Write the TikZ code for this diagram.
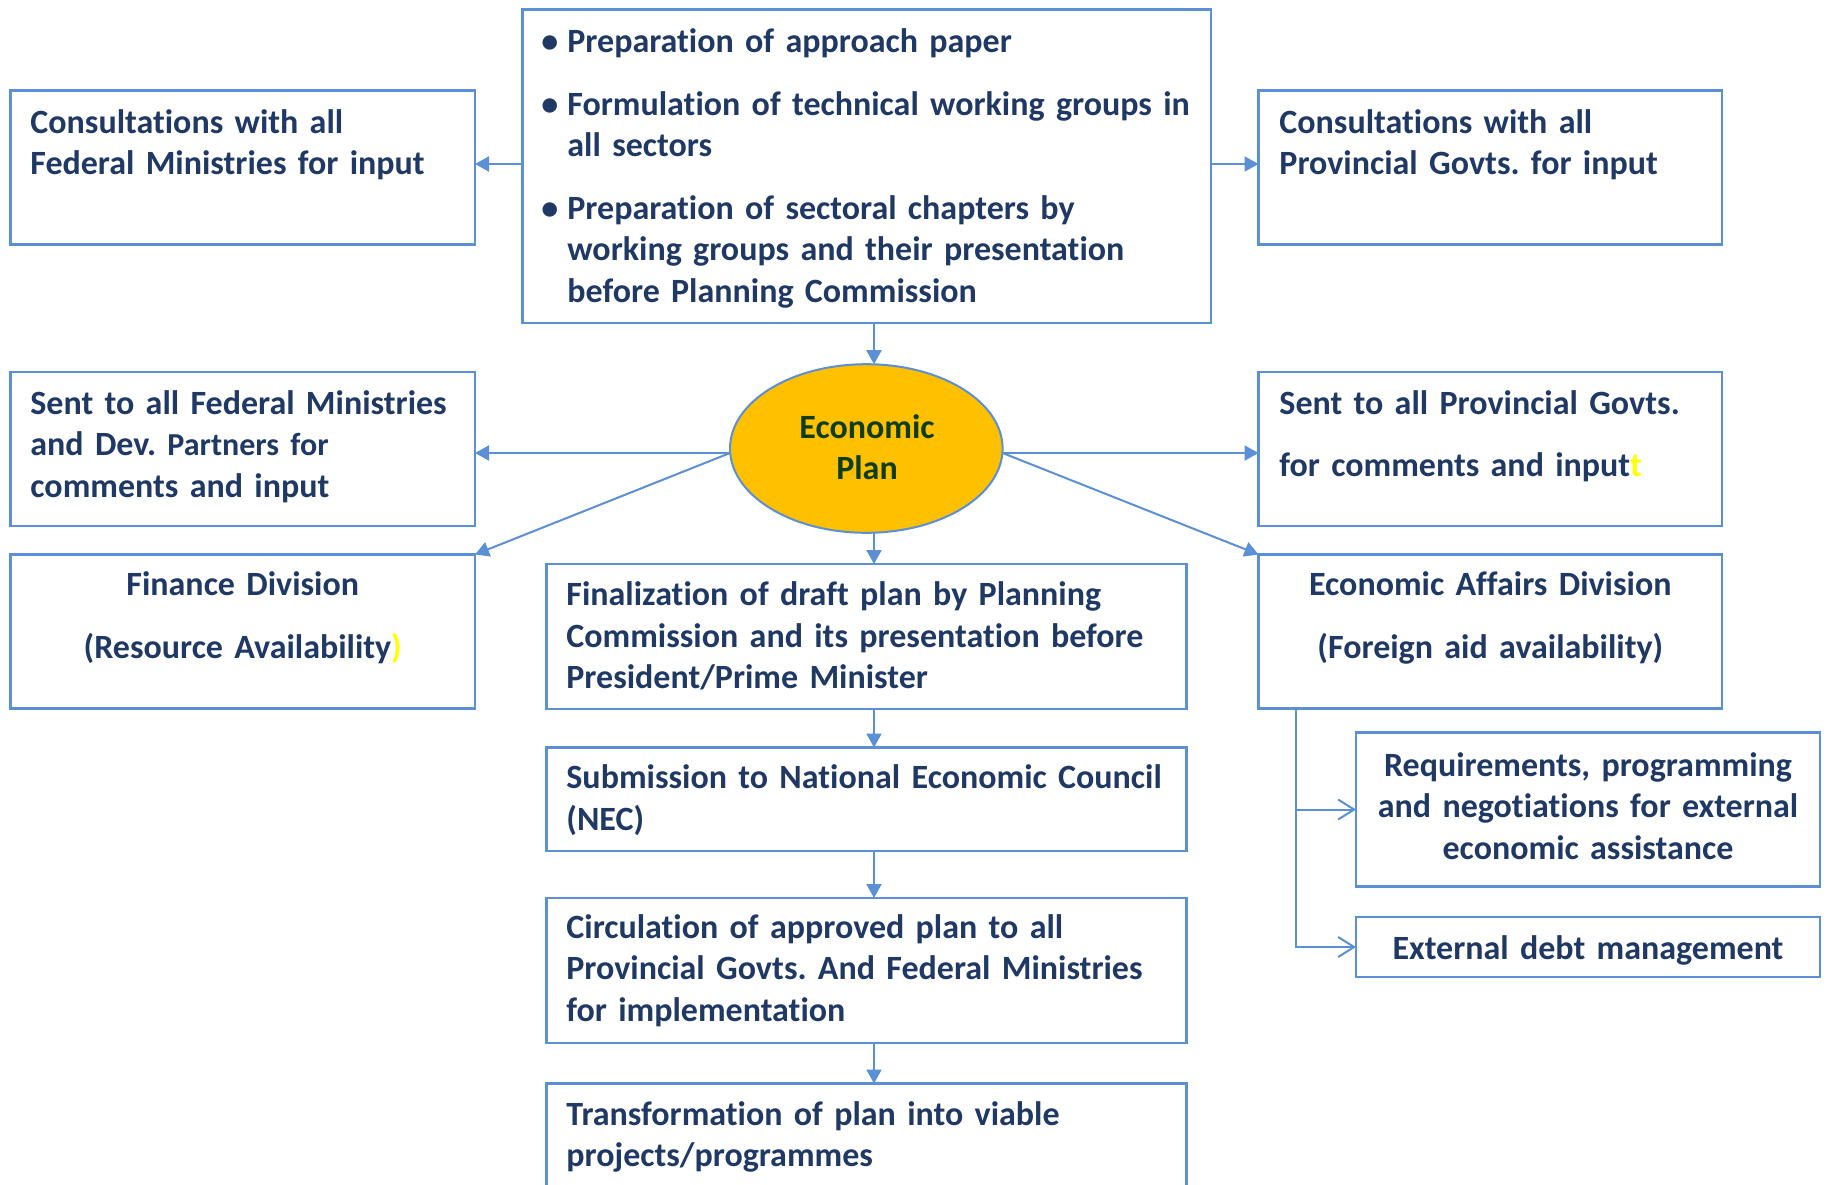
\documentclass[tikz,border=0pt]{standalone}
\usepackage{fontspec}
\setmainfont{Carlito}[Ligatures=NoCommon]
\usetikzlibrary{arrows.meta,shapes.geometric}
\definecolor{bord}{HTML}{5B8FD6}
\definecolor{navy}{HTML}{1F3864}
\definecolor{gold}{HTML}{FFC000}
\definecolor{dgreen}{HTML}{0F3D0F}
\definecolor{yel}{HTML}{FFFF00}
\newcommand{\bul}{\leavevmode\llap{\textbullet\hspace{4.5pt}}}
\frenchspacing
\begin{document}
\begin{tikzpicture}[x=0.5pt,y=-0.5pt,
  box/.style={draw=bord, line width=1.1pt, rectangle, inner sep=0pt, outer sep=0pt, anchor=north west},
  txt/.style={text=navy, font=\fontsize{17}{20.75}\selectfont\bfseries\frenchspacing, inner sep=0pt, anchor=base west, text width=400pt, align=left},
  ctxt/.style={txt, anchor=base, align=center, text width=232pt},
  arr/.style={draw=bord, line width=1pt, -{Triangle[length=7pt,width=7.5pt]}},
  oarr/.style={draw=bord, line width=1pt, -{Straight Barb[length=8pt,width=10pt]}},
]
\useasboundingbox (0,0) rectangle (1829,1184);

% boxes
\node[box, minimum width=344.25pt, minimum height=156.75pt] (TOP) at (522.5,9.5) {};
\node[box, minimum width=232.25pt, minimum height=77pt] (L1) at (10.5,90.5) {};
\node[box, minimum width=232.25pt, minimum height=77pt] (L2) at (10.5,372) {};
\node[box, minimum width=232.25pt, minimum height=77pt] (L3) at (10.5,554.5) {};
\node[box, minimum width=231.75pt, minimum height=77pt] (R1) at (1258.5,90.5) {};
\node[box, minimum width=231.75pt, minimum height=77pt] (R2) at (1258.5,372) {};
\node[box, minimum width=231.75pt, minimum height=77pt] (R3) at (1258.5,554.5) {};
\node[box, minimum width=232pt, minimum height=77pt] (R4) at (1356,732.5) {};
\node[box, minimum width=232pt, minimum height=30pt] (R5) at (1356,917) {};
\node[box, minimum width=320pt, minimum height=72.5pt] (C1) at (546.5,564) {};
\node[box, minimum width=320pt, minimum height=51.75pt] (C2) at (546.5,747.5) {};
\node[box, minimum width=320pt, minimum height=72.5pt] (C3) at (546.5,898) {};
\node[box, minimum width=320pt, minimum height=85pt] (C4) at (546.5,1083.5) {};
\node[ellipse, draw=bord, fill=gold, line width=1pt, inner sep=0pt, outer sep=0pt,
      minimum width=136.3pt, minimum height=84.3pt] (ELL) at (866.3,448.5) {};

% texts
\node[txt] (TOPt) at (567,52.5) {\bul Preparation of approach paper\\[10.5pt]\bul Formulation of technical working groups in\\all sectors\\[10.5pt]\bul Preparation of sectoral chapters by\\working groups and their presentation\\before Planning Commission};
\node[txt] (L1t) at (30,133) {Consultations with all\\Federal Ministries for input};
\node[txt] (R1t) at (1279,133) {Consultations with all\\Provincial Govts. for input};
\node[txt] (L2t) at (30,414) {Sent to all Federal Ministries\\and Dev. {\fontsize{16}{20.75}\selectfont Partners for}\\comments and input};
\node[txt] (R2t) at (1279,414) {Sent to all Provincial Govts.\\[10.5pt]for comments and input\textcolor{yel}{t}};
\node[ctxt] (L3t) at (L3.north |- 0,595.5) {Finance Division\\[10.5pt](Resource Availability\textcolor{yel}{)}};
\node[ctxt] (R3t) at (R3.north |- 0,595.5) {Economic Affairs Division\\[10.5pt](Foreign aid availability)};
\node[ctxt] (R4t) at (R4.north |- 0,776) {Requirements, programming\\and negotiations for external\\economic assistance};
\node[ctxt] (R5t) at (R5.north |- 0,959) {External debt management};
\node[txt] (C1t) at (566,605.7) {Finalization of draft plan by Planning\\Commission and its presentation before\\President/Prime Minister};
\node[txt] (C2t) at (566,788.5) {Submission to National Economic Council\\(NEC)};
\node[txt] (C3t) at (566,938.4) {Circulation of approved plan to all\\Provincial Govts. And Federal Ministries\\for implementation};
\node[txt] (C4t) at (566,1125.2) {Transformation of plan into viable\\projects/programmes};
\node[ctxt, text=dgreen, text width=120pt] (ELLt) at (867,438.3) {Economic\\Plan};

% connectors
\coordinate (sp) at (874,0);
\coordinate (ea) at (1296,0);
\coordinate (ELLw) at (ELL.west |- 0,453);
\coordinate (ELLe) at (ELL.east |- 0,453);
\draw[arr] (TOP.west |- 0,164) -- (L1.east |- 0,164);
\draw[arr] (TOP.east |- 0,164) -- (R1.west |- 0,164);
\draw[arr] (TOP.south -| sp) -- (ELL.north -| sp);
\draw[arr] (ELL.south -| sp) -- (C1.north -| sp);
\draw[arr] (C1.south -| sp) -- (C2.north -| sp);
\draw[arr] (C2.south -| sp) -- (C3.north -| sp);
\draw[arr] (C3.south -| sp) -- (C4.north -| sp);
\draw[arr] (ELLw) -- (ELLw -| L2.east);
\draw[arr] (ELLe) -- (ELLe -| R2.west);
\draw[arr] (ELLw) -- (L3.north east);
\draw[arr] (ELLe) -- (R3.north west);
\draw[oarr] (R3.south -| ea) |- (R4.west);
\draw[oarr] (R3.south -| ea) |- (R5.west);
\end{tikzpicture}
\end{document}
